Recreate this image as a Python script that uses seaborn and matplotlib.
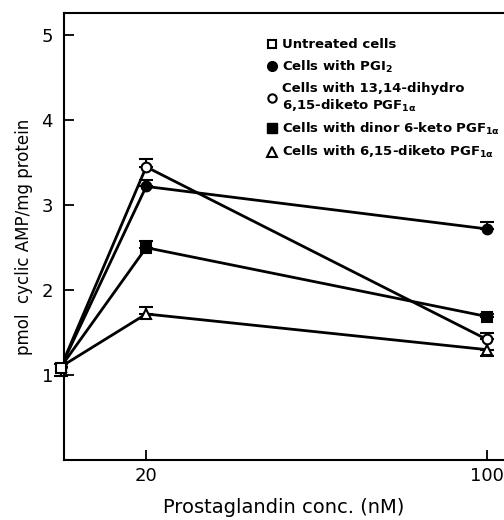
import numpy as np
import pandas as pd
import matplotlib
matplotlib.use("Agg")
import matplotlib.pyplot as plt
from matplotlib.lines import Line2D
import seaborn as sns

# data
conc = [0, 20, 100]
pgi2 = [1.10, 3.22, 2.72]
dihydro = [1.10, 3.45, 1.42]
dinor = [1.10, 2.50, 1.69]
diketo = [1.10, 1.72, 1.30]
untreated_x = [0]
untreated = [1.08]

# error bars (lower, upper)
pgi2_err = [[0, 0, 0], [0, 0.07, 0.08]]
dihydro_err = [[0, 0, 0], [0, 0.09, 0.08]]
dinor_err = [[0, 0, 0], [0, 0.08, 0.03]]
diketo_err = [[0, 0, 0.08], [0, 0.08, 0]]
untreated_err = [[0.09], [0.05]]

labels = ["Untreated cells",
          "Cells with PGI$_2$",
          "Cells with 13,14-dihydro\n6,15-diketo PGF$_{1\\alpha}$",
          "Cells with dinor 6-keto PGF$_{1\\alpha}$",
          "Cells with 6,15-diketo PGF$_{1\\alpha}$"]

sns.set_style("ticks", {"text.color": "black", "axes.labelcolor": "black",
                        "xtick.color": "black", "ytick.color": "black",
                        "axes.edgecolor": "black"})
plt.rcParams['font.family'] = ['DejaVu Sans']
plt.rcParams['mathtext.default'] = 'bf'

fig = plt.figure(figsize=(5.04, 5.2), dpi=100)
ax = fig.add_axes([0.127, 0.115, 0.873, 0.86])

series = [
    (pgi2, pgi2_err, "o", "black"),
    (dihydro, dihydro_err, "o", "white"),
    (dinor, dinor_err, "s", "black"),
    (diketo, diketo_err, "^", "white"),
]
for vals, err, mk, fc in series:
    df = pd.DataFrame({"conc": conc, "val": vals})
    ax.errorbar(conc, vals, yerr=err, fmt="none", ecolor="black",
                elinewidth=1.5, capsize=5, capthick=1.5, zorder=2)
    sns.lineplot(data=df, x="conc", y="val", ax=ax, color="black", lw=2,
                 marker=mk, markersize=7, markerfacecolor=fc,
                 markeredgecolor="black", markeredgewidth=1.5, zorder=3)

ax.errorbar(untreated_x, untreated, yerr=untreated_err, fmt="s", color="black",
            mfc="white", mec="black", ms=7, mew=1.5, elinewidth=1.5,
            capsize=5, capthick=1.5, zorder=4, clip_on=False)

ax.set_xlim(0.7, 104)
ax.set_ylim(0, 5.26)
ax.set_xticks([20, 100])
ax.set_xticklabels(["20", "100"])
ax.set_yticks([1, 2, 3, 4, 5])
ax.tick_params(direction="in", length=7, width=1.3, labelsize=13, pad=8)
ax.tick_params(axis="x", pad=5)
for s in ["left", "bottom", "top"]:
    ax.spines[s].set_linewidth(1.5)
ax.spines["right"].set_visible(False)

ax.set_xlabel("Prostaglandin conc. (nM)", fontsize=14, labelpad=9)
ax.set_ylabel("pmol  cyclic AMP/mg protein", fontsize=12, labelpad=6)

handles = [
    Line2D([], [], ls="none", marker="s", ms=6, mfc="white", mec="black", mew=1.5),
    Line2D([], [], ls="none", marker="o", ms=7, mfc="black", mec="black"),
    Line2D([], [], ls="none", marker="o", ms=6, mfc="white", mec="black", mew=1.5),
    Line2D([], [], ls="none", marker="s", ms=7, mfc="black", mec="black"),
    Line2D([], [], ls="none", marker="^", ms=7, mfc="white", mec="black", mew=1.5),
]
leg = ax.legend(handles, labels, loc="upper left", bbox_to_anchor=(0.445, 0.955),
                frameon=False, prop={"size": 9.5, "weight": "bold"},
                handletextpad=0.3, handlelength=1, labelspacing=0.55,
                borderaxespad=0)

fig.savefig("out.png", dpi=100)
